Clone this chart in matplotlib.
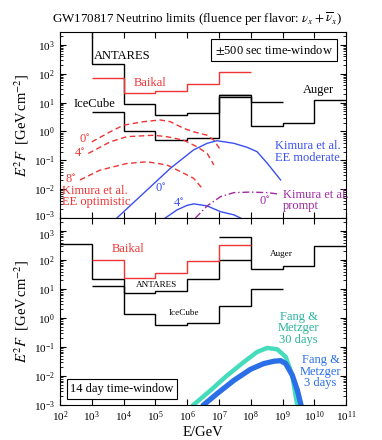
import numpy as np
import matplotlib
matplotlib.use("Agg")
import matplotlib.pyplot as plt
import matplotlib.transforms as mtrans

plt.rcParams['font.family'] = ['Liberation Serif', 'DejaVu Serif']
plt.rcParams['mathtext.fontset'] = 'stix'

#
# data
#
# top panel: +-500 s window (bin edges in GeV, E^2F in GeV cm^-2)
antares_top_E = [1e2, 1e3, 1e4, 1e5, 1e6, 1e7, 1e8]
antares_top = [1e4, 215, 9.0, 3.7, 4.3, 18.5]
icecube_top_E = [1e3, 1e4, 1e5, 1e6, 1e7, 1e8, 1e9]
icecube_top = [4.7, 1.0, 0.5, 0.6, 16.3, 10.4]
baikal_top_E = [1e3, 1e4, 1e5, 1e6, 1e7, 1e8]
baikal_top = [74, 21, 24.5, 45, 120]
auger_top_E = [1e7, 1e8, 1e9, 1e10, 1e11]
auger_top = [18.5, 1.55, 1.95, 12]

# bottom panel: 14 day window
antares_bot_E = [1e2, 1e3, 1e4, 1e5, 1e6, 1e7, 1e8]
antares_bot = [350, 23, 7.6, 8.5, 23, 100]
icecube_bot_E = [1e3, 1e4, 1e5, 1e6, 1e7, 1e8, 1e9]
icecube_bot = [12.6, 1.4, 0.56, 0.7, 2.7, 10]
baikal_bot_E = [1e3, 1e4, 1e5, 1e6, 1e7, 1e8]
baikal_bot = [100, 24, 35, 95, 330]
auger_bot_E = [1e7, 1e8, 1e9, 1e10, 1e11]
auger_bot = [620, 49, 63, 310]

# Kimura et al. EE optimistic (log10 E, log10 E^2F)
opt0_logE = [3.0, 3.58, 4.0, 4.63, 5.15, 5.47, 5.89, 6.2, 6.63, 6.84, 7.05]
opt0_logF = [-0.36, -0.01, 0.22, 0.34, 0.40, 0.34, 0.11, -0.01, -0.13, -0.30, -0.64]
opt4_logE = [2.89, 3.58, 4.1, 4.94, 5.36, 5.89, 6.31, 6.63, 6.84]
opt4_logF = [-0.76, -0.36, -0.18, -0.13, -0.18, -0.30, -0.53, -0.76, -1.16]
opt8_logE = [2.63, 3.26, 4.1, 4.73, 5.36, 5.79, 6.2, 6.52]
opt8_logF = [-1.68, -1.34, -1.11, -1.05, -1.16, -1.39, -1.62, -2.03]

# Kimura et al. EE moderate
mod0_logE = [3.79, 4.63, 5.47, 6.2, 6.63, 6.94, 7.47, 7.89, 8.2, 8.52, 8.94]
mod0_logF = [-3.0, -2.14, -1.28, -0.64, -0.41, -0.32, -0.41, -0.55, -0.70, -1.10, -1.68]
mod4_logE = [5.31, 5.68, 6.0, 6.21, 6.63, 7.05, 7.47, 7.68]
mod4_logF = [-3.0, -2.72, -2.56, -2.51, -2.58, -2.78, -2.89, -3.0]

# Kimura et al. prompt
prompt_logE = [6.26, 6.63, 7.05, 7.47, 8.0, 8.52, 8.89]
prompt_logF = [-3.0, -2.58, -2.26, -2.12, -2.10, -2.12, -2.17]

# Fang & Metzger
fm30_logE = [6.15, 6.73, 7.26, 7.78, 8.2, 8.52, 8.84, 9.1, 9.31, 9.41, 9.47]
fm30_logF = [-3.04, -2.50, -1.98, -1.52, -1.17, -1.03, -1.08, -1.34, -1.98, -2.67, -3.04]
fm3_logE = [6.47, 6.94, 7.47, 7.99, 8.41, 8.73, 8.94, 9.1, 9.31, 9.47, 9.59]
fm3_logF = [-3.04, -2.61, -2.15, -1.77, -1.57, -1.49, -1.47, -1.57, -1.98, -2.5, -3.04]

ticks_x = [10.0**k for k in range(2, 12)]
ticks_y = [10.0**k for k in range(-3, 4)]

red = '#ee3434'
blue = '#3a4ff0'
purple = '#a02aa0'
teal = '#45dcbc'
teal_txt = '#2ab39c'
blue2 = '#2a6ee8'
fs = 9


def curve(ax, logE, logF, **kw):
    ax.plot(10.0**np.array(logE), 10.0**np.array(logF), **kw)


fig = plt.figure(figsize=(3.82, 4.40), dpi=100)
ax1 = fig.add_axes([0.157, 0.5045, 0.749, 0.4228])
ax2 = fig.add_axes([0.157, 0.0795, 0.749, 0.425])

for ax in (ax1, ax2):
    ax.set_xscale('log')
    ax.set_yscale('log')
    ax.set_xlim(1e2, 1e11)
    ax.set_ylim(1e-3, 10**3.45)
    ax.set_xticks(ticks_x)
    ax.set_yticks(ticks_y)
    ax.tick_params(which='both', direction='in', top=True, right=True, labelsize=8)
    ax.tick_params(which='major', length=4)
    ax.tick_params(which='minor', length=2)
    ax.set_ylabel(r'$E^2F$  [GeV$\,$cm$^{-2}$]', fontsize=10.5, labelpad=2)
ax1.tick_params(labelbottom=False)

# nudge the two tick labels that meet at the panel join a little apart
lab_lo = ax1.get_yticklabels()[0]
lab_lo.set_transform(lab_lo.get_transform() + mtrans.ScaledTranslation(0, 2 / 72, fig.dpi_scale_trans))
lab_hi = ax2.get_yticklabels()[-1]
lab_hi.set_transform(lab_hi.get_transform() + mtrans.ScaledTranslation(0, -2 / 72, fig.dpi_scale_trans))

#
# top panel
#
ax1.stairs(antares_top, antares_top_E, baseline=None, color='k', lw=1.0)
ax1.stairs(icecube_top, icecube_top_E, baseline=None, color='k', lw=1.0)
ax1.stairs(auger_top, auger_top_E, baseline=None, color='k', lw=1.0)
ax1.stairs(baikal_top, baikal_top_E, baseline=None, color=red, lw=1.0)

curve(ax1, opt0_logE, opt0_logF, color=red, ls=(0, (4, 2.5)), lw=1.0)
curve(ax1, opt4_logE, opt4_logF, color=red, ls=(0, (4, 2.5)), lw=1.0)
curve(ax1, opt8_logE, opt8_logF, color=red, ls=(0, (4, 2.5)), lw=1.0)
curve(ax1, mod0_logE, mod0_logF, color=blue, lw=1.0)
curve(ax1, mod4_logE, mod4_logF, color=blue, lw=1.0)
curve(ax1, prompt_logE, prompt_logF, color=purple, ls=(0, (5, 2, 1, 2)), lw=1.0)

ax1.text(10**3.08, 400, 'ANTARES', fontsize=fs, va='center')
ax1.text(10**4.84, 47, 'Baikal', fontsize=fs, va='center', ha='center', color=red)
ax1.text(10**3.09, 9, 'IceCube', fontsize=fs, va='center', ha='center')
ax1.text(10**10.14, 27, 'Auger', fontsize=fs, va='center', ha='center')
ax1.text(10**2.79, 10**-0.26, r'0$^{\circ}$', fontsize=fs, va='center', ha='center', color=red)
ax1.text(10**2.63, 10**-0.75, r'4$^{\circ}$', fontsize=fs, va='center', ha='center', color=red)
ax1.text(10**2.32, 10**-1.65, r'8$^{\circ}$', fontsize=fs, va='center', ha='center', color=red)
ax1.text(10**2.06, 10**-2.26, 'Kimura et al.\nEE optimistic', fontsize=fs, va='center',
         color=red, linespacing=0.95)
ax1.text(10**5.15, 10**-1.96, r'0$^{\circ}$', fontsize=fs, va='center', ha='center', color=blue)
ax1.text(10**5.72, 10**-2.51, r'4$^{\circ}$', fontsize=fs, va='center', ha='center', color=blue)
ax1.text(10**8.75, 10**-0.71, 'Kimura et al.\nEE moderate', fontsize=fs, va='center',
         color=blue, linespacing=0.95)
ax1.text(10**9.0, 10**-2.4, 'Kimura et al.\nprompt', fontsize=fs, va='center',
         color=purple, linespacing=0.95)
ax1.text(10**8.44, 10**-2.44, r'0$^{\circ}$', fontsize=fs, va='center', ha='center', color=purple)
ax1.text(0.748, 0.903, r'$\pm$500 sec time-window', transform=ax1.transAxes, fontsize=9,
         ha='center', va='center',
         bbox=dict(boxstyle='square,pad=0.3', fc='white', ec='k', lw=0.8))

#
# bottom panel
#
ax2.stairs(antares_bot, antares_bot_E, baseline=None, color='k', lw=1.0)
ax2.stairs(icecube_bot, icecube_bot_E, baseline=None, color='k', lw=1.0)
ax2.stairs(auger_bot, auger_bot_E, baseline=None, color='k', lw=1.0)
ax2.stairs(baikal_bot, baikal_bot_E, baseline=None, color=red, lw=1.0)

curve(ax2, fm30_logE, fm30_logF, color=teal, lw=3.2, solid_capstyle='butt')
curve(ax2, fm3_logE, fm3_logF, color=blue2, lw=3.8, solid_capstyle='butt')

ax2.text(10**4.13, 10**2.38, 'Baikal', fontsize=fs, va='center', ha='center', color=red)
ax2.text(10**5.03, 10**1.13, 'ANTARES', fontsize=6.6, va='center', ha='center')
ax2.text(10**5.91, 10**0.18, 'IceCube', fontsize=6.6, va='center', ha='center')
ax2.text(10**8.97, 10**2.2, 'Auger', fontsize=6.6, va='center', ha='center')
ax2.text(10**9.51, 10**-0.36, 'Fang &\nMetzger\n30 days', fontsize=fs, va='center',
         ha='center', color=teal_txt, linespacing=0.95)
ax2.text(10**10.2, 10**-1.85, 'Fang &\nMetzger\n3 days', fontsize=fs, va='center',
         ha='center', color=blue2, linespacing=0.95)
ax2.text(0.217, 0.086, '14 day time-window', transform=ax2.transAxes, fontsize=9,
         ha='center', va='center',
         bbox=dict(boxstyle='square,pad=0.3', fc='white', ec='k', lw=0.8))
ax2.set_xlabel('E/GeV', fontsize=10.5, labelpad=1)

fig.text(0.516, 0.955, r'GW170817 Neutrino limits (fluence per flavor: $\nu_x+\overline{\nu}_x$)',
         fontsize=9.4, ha='center', va='center')

fig.savefig('out.png', dpi=100)
